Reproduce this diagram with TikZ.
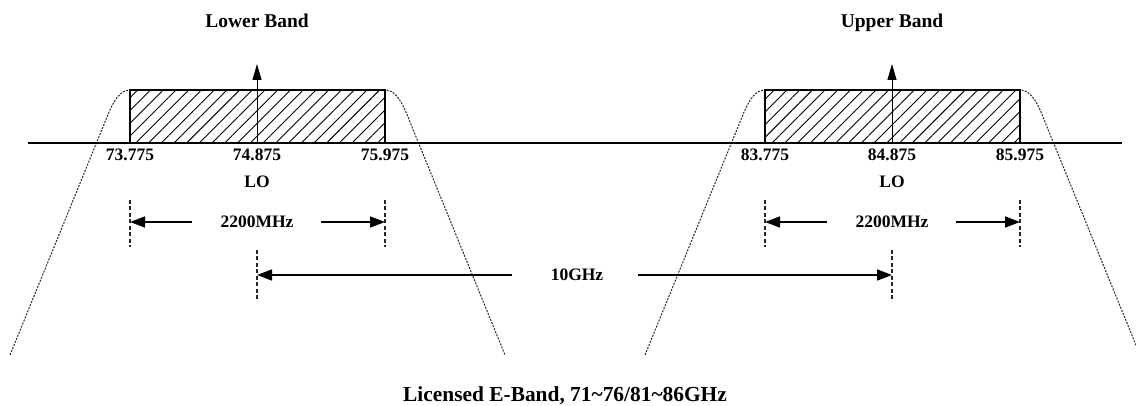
\documentclass[tikz,border=0pt]{standalone}
\usepackage{fontspec}
\setmainfont{Liberation Serif}
\usepackage{tikz}
\usetikzlibrary{positioning, arrows.meta, patterns.meta}

\begin{document}
\begin{tikzpicture}[
  x=1pt, y=-1pt,
  axis/.style={line width=2pt},
  band/.style={line width=1.8pt, pattern={Lines[angle=45, distance=9pt, line width=0.9pt]}},
  mask/.style={dash pattern=on 2pt off 1.3pt, line width=1pt, black!85},
  tick/.style={dash pattern=on 4pt off 2.5pt, line width=1.8pt, black!85},
  dim/.style={line width=1.6pt, -{Triangle[length=15pt, width=11pt]}},
  lo/.style={line width=1pt, -{Triangle[length=16pt, width=9pt]}},
  num/.style={inner sep=0pt, font=\fontsize{17.5}{18}\selectfont\bfseries},
  title/.style={inner sep=0pt, anchor=base, font=\fontsize{19.5}{20}\selectfont\bfseries}
]
  \useasboundingbox (0,0) rectangle (1136,406);

  % Band edges on the axis
  \coordinate (l1) at (130,143);
  \coordinate (l0) at (257,143);
  \coordinate (l2) at (385,143);
  \coordinate (u1) at (765,143);
  \coordinate (u0) at (892,143);
  \coordinate (u2) at (1020,143);

  % Masks
  \draw[mask] (10,355) -- (105,122) .. controls (114,98) and (121,90) .. (130,90)
    -- (385,90) .. controls (394,90) and (401,98) .. (410,122) -- (505,355);
  \draw[mask] (645,355) -- (740,122) .. controls (749,98) and (756,90) .. (765,90)
    -- (1020,90) .. controls (1029,90) and (1036,98) .. (1045,122) -- (1140,355);

  % Axis and bands
  \draw[axis] (28,143) -- (1122,143);
  \draw[band] (l1) rectangle (l2 |- 0,90);
  \draw[band] (u1) rectangle (u2 |- 0,90);
  \draw[lo] (l0) -- (l0 |- 0,64);
  \draw[lo] (u0) -- (u0 |- 0,64);

  % Titles
  \node[title] (lower) at (l0 |- 0,28) {Lower Band};
  \node[title] (upper) at (u0 |- 0,28) {Upper Band};

  % Frequencies
  \node[num, below=6pt of l1] (fl1) {73.775};
  \node[num, below=6pt of l0] (fl0) {74.875};
  \node[num, below=6pt of l2] (fl2) {75.975};
  \node[num, below=6pt of u1] (fu1) {83.775};
  \node[num, below=6pt of u0] (fu0) {84.875};
  \node[num, below=6pt of u2] (fu2) {85.975};
  \node[num, below=14pt of fl0] (lol) {LO};
  \node[num, below=14pt of fu0] (lou) {LO};

  % Bandwidth markers
  \draw[tick] (l1 |- 0,200) -- (l1 |- 0,247);
  \draw[tick] (l2 |- 0,200) -- (l2 |- 0,247);
  \draw[tick] (u1 |- 0,200) -- (u1 |- 0,247);
  \draw[tick] (u2 |- 0,200) -- (u2 |- 0,247);
  \coordinate (dl1) at (l1 |- 0,222);
  \coordinate (dl2) at (l2 |- 0,222);
  \coordinate (du1) at (u1 |- 0,222);
  \coordinate (du2) at (u2 |- 0,222);
  \node[num] (bwl) at (l0 |- 0,222) {2200MHz};
  \node[num] (bwu) at (u0 |- 0,222) {2200MHz};
  \draw[dim, shorten <=28pt] (bwl.west) -- (dl1);
  \draw[dim, shorten <=27pt] (bwl.east) -- (dl2);
  \draw[dim, shorten <=28pt] (bwu.west) -- (du1);
  \draw[dim, shorten <=27pt] (bwu.east) -- (du2);

  % LO spacing
  \draw[tick] (l0 |- 0,250) -- (l0 |- 0,300);
  \draw[tick] (u0 |- 0,250) -- (u0 |- 0,300);
  \coordinate (sl) at (l0 |- 0,275);
  \coordinate (su) at (u0 |- 0,275);
  \node[num] (gap) at (577,275) {10GHz};
  \draw[dim, shorten <=39pt] (gap.west) -- (sl);
  \draw[dim, shorten <=35pt] (gap.east) -- (su);

  \node[title, font=\fontsize{21.4}{22}\selectfont\bfseries] (eband) at (565,401) {Licensed E-Band, 71\textasciitilde76/81\textasciitilde86GHz};
\end{tikzpicture}
\end{document}
